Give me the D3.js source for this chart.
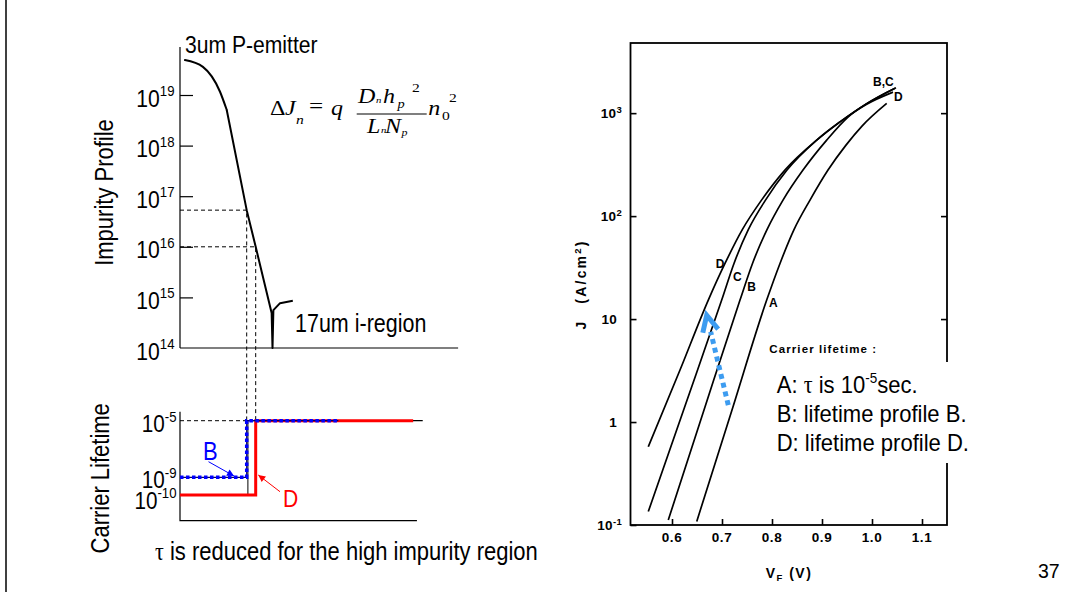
<!DOCTYPE html>
<html><head><meta charset="utf-8">
<script src="https://cdn.jsdelivr.net/npm/d3@7"></script>
<style>html,body{margin:0;padding:0;background:#fff;}svg{display:block;}</style>
</head><body>
<svg id="chart" width="1084" height="592"></svg>
<script>
// ---------- impurity profile of the P-emitter (depth in um, concentration in cm^-3)
const profileDepth = [0.17, 0.79, 1.38, 1.61, 2.30, 2.61, 3.16, 3.19, 3.22, 3.45, 3.89];
const profileConc  = [4.9e19, 3.6e19, 1.16e19, 5.1e18, 5.3e16, 1.0e16, 4.9e14, 1e14, 5.6e14, 7.7e14, 8.6e14];
const shoulderCount = 4;   // rounded surface part; the rest is drawn straight
const concTicks    = [1e15, 1e16, 1e17, 1e18, 1e19];
const concTickExp  = ["14", "15", "16", "17", "18", "19"];

// ---------- carrier lifetime profiles B and D
const lifetimeNames     = ["B", "D"];
const lifetimeThreshold = [5.3e16, 1e16];   // lifetime is reduced above this impurity level
const lifetimeLowLog    = [-9, -10];
const lifetimeHighLog   = -5;
const lifetimeEndDepth  = [5.46, 8.04];
const lifetimeTickLog   = [-5, -9, -10];
const referenceEndDepth = 8.37;

// ---------- forward J-V curves (V_F in volts, J in A/cm^2)
const curveNames = ["A", "B", "C", "D"];
const vA = [0.6494, 0.720, 0.7894, 0.816, 0.844, 0.876, 0.912, 0.948, 0.980, 1.0294];
const jA = [0.108, 1.31, 15.3, 34.7, 73.9, 143, 280, 489, 748, 1242];
const vB = [0.5926, 0.664, 0.736, 0.761, 0.790, 0.822, 0.862, 0.9094, 0.952, 0.9894, 1.048];
const jB = [0.112, 1.31, 15.3, 34.7, 73.9, 143, 280, 547, 915, 1237, 1768];
const vC = [0.5526, 0.626, 0.6994, 0.724, 0.7526, 0.787, 0.830, 0.8894, 0.936, 0.9894, 1.046];
const jC = [0.135, 1.43, 15.3, 34.7, 73.9, 143, 280, 547, 823, 1237, 1749];
const vD = [0.5526, 0.616, 0.6726, 0.706, 0.7406, 0.779, 0.8258, 0.8894, 0.936, 0.9894, 1.042];
const jD = [0.576, 3.20, 15.3, 34.7, 73.9, 143, 280, 547, 823, 1223, 1600];
const vTicks = [0.6, 0.7, 0.8, 0.9, 1.0, 1.1];
const vTickLabels = ["0.6", "0.7", "0.8", "0.9", "1.0", "1.1"];
const jTicks = [0.1, 1, 10, 100, 1000];
const jTickBase = ["10", "1", "10", "10", "10"];
const jTickExp  = ["-1", "", "", "2", "3"];
// curve labels placed at (V, J)
const curveLabelText = ["D", "C", "B", "A", "B,C", "D"];
const curveLabelV    = [0.696, 0.7306, 0.7594, 0.8026, 1.0226, 1.0526];
const curveLabelJ    = [34.7, 25.7, 20.6, 14.5, 2014, 1439];
// trend arrow from profile A towards the reduced-lifetime profiles
const trendFrom = [0.7126, 1.46];
const trendTo   = [0.6694, 10.9];

const SANS  = "'Liberation Sans', Arial, Helvetica, sans-serif";
const SERIF = "'Liberation Serif', 'Times New Roman', serif";

const svg = d3.select("#chart");
svg.append("rect").attr("width", 1084).attr("height", 592).attr("fill", "#fff");
svg.append("line").attr("x1", 6).attr("x2", 6).attr("y1", 0).attr("y2", 592)
  .attr("stroke", "#000").attr("stroke-width", 1.5);

const defs = svg.append("defs");
function arrowMarker(id, color) {
  defs.append("marker").attr("id", id).attr("viewBox", "0 0 10 10")
    .attr("refX", 10).attr("refY", 5).attr("markerWidth", 9).attr("markerHeight", 7)
    .attr("markerUnits", "userSpaceOnUse").attr("orient", "auto")
    .append("path").attr("d", "M0,0L10,5L0,10z").attr("fill", color);
}
arrowMarker("headBlue", "#0000ff");
arrowMarker("headRed", "#ff0000");

// text helper: positioned by transform, optional rotation and horizontal squeeze
function label(g, x, y, o) {
  const t = g.append("text")
    .attr("transform", `translate(${x},${y})` + (o.rotate ? ` rotate(${o.rotate})` : "") + ` scale(${o.sx || 1},1)`)
    .attr("font-family", o.family || SANS).attr("font-size", o.size)
    .attr("fill", o.fill || "#000").attr("text-anchor", o.anchor || "start");
  if (o.weight) t.attr("font-weight", o.weight);
  if (o.italic) t.attr("font-style", "italic");
  if (o.spacing) t.attr("letter-spacing", o.spacing);
  if (o.text !== undefined) t.text(o.text);
  return t;
}

// ================= left: impurity profile =================
const left = svg.append("g");
const xDepth = d3.scaleLinear().domain([0, 10]).range([180, 470]);
const yConc = d3.scaleLog().domain([1e14, 1e20]).range([348, 44.4]);
const yTau = d3.scaleLinear().domain([-11.45, -10, -9, -5, -4.36]).range([520.7, 495, 477.3, 420.7, 411.7]);

left.append("line").attr("x1", xDepth(0)).attr("x2", xDepth(0))
  .attr("y1", yConc(1e14)).attr("y2", yConc(Math.pow(10, 19.95)))
  .attr("stroke", "#000").attr("stroke-width", 1.2);
left.append("line").attr("x1", xDepth(0)).attr("x2", xDepth(9.59))
  .attr("y1", yConc(1e14)).attr("y2", yConc(1e14))
  .attr("stroke", "#000").attr("stroke-width", 1.2);
left.append("g").attr("transform", `translate(${xDepth(0)},0)`)
  .call(d3.axisRight(yConc).tickValues(concTicks).tickSize(13).tickSizeOuter(0).tickFormat(""))
  .call(g => g.select(".domain").remove())
  .call(g => g.selectAll("line").attr("stroke", "#000").attr("stroke-width", 1.2));

[1e14].concat(concTicks).forEach((v, i) => {
  const t = label(left, 174.5, yConc(v) + 11.5, { size: 24, sx: 0.88, anchor: "end" });
  t.append("tspan").text("10");
  t.append("tspan").attr("font-size", 15).attr("dy", -10.5).text(concTickExp[i]);
});

const profilePts = profileDepth.map((d, i) => [d, profileConc[i]]);
const profileX = d => xDepth(d[0]), profileY = d => yConc(d[1]);
left.append("path").datum(profilePts.slice(0, shoulderCount))
  .attr("d", d3.line().x(profileX).y(profileY).curve(d3.curveMonotoneX))
  .attr("fill", "none").attr("stroke", "#000").attr("stroke-width", 2).attr("stroke-linecap", "round");
left.append("path").datum(profilePts.slice(shoulderCount - 1))
  .attr("d", d3.line().x(profileX).y(profileY))
  .attr("fill", "none").attr("stroke", "#000").attr("stroke-width", 2).attr("stroke-linejoin", "round");

function crossingDepth(th) {
  for (let i = 0; i < profileDepth.length - 1; i++) {
    const a = profileConc[i], b = profileConc[i + 1];
    if (a >= th && b <= th) {
      const t = (Math.log10(a) - Math.log10(th)) / (Math.log10(a) - Math.log10(b));
      return profileDepth[i] + t * (profileDepth[i + 1] - profileDepth[i]);
    }
  }
  return profileDepth[profileDepth.length - 1];
}
const stepDepth = lifetimeThreshold.map(crossingDepth);

// guide lines from the profile down to the lifetime plot
stepDepth.forEach((s, i) => {
  const th = lifetimeThreshold[i];
  left.append("path")
    .attr("d", `M${xDepth(0)},${yConc(th)}H${xDepth(s)}V${yTau(lifetimeHighLog)}`)
    .attr("fill", "none").attr("stroke", "#000").attr("stroke-width", 1).attr("stroke-dasharray", "4,3");
});

label(left, 185, 53.3, { size: 24, sx: 0.88, text: "3um P-emitter" });
label(left, 295, 331.7, { size: 25, sx: 0.86, text: "17um i-region" });
label(left, 113, 192.5, { size: 25, sx: 0.88, rotate: -90, anchor: "middle", text: "Impurity Profile" });

// formula  dJn = q Dn hp^2 / (Ln Np) n0^2
const F = 1.2;
const formula = [
  ["\u0394", 270, 115, 20, false], ["J", 285, 115, 20, true], ["n", 296, 124, 13, true],
  ["=", 309, 113, 21, false], ["q", 331, 115, 20, true],
  ["D", 358, 102.7, 20, true], ["n", 376, 103, 9, true], ["h", 383, 102.7, 20, true],
  ["p", 397.5, 108, 12, true], ["2", 412, 91.7, 13, false],
  ["L", 367, 133.3, 20, true], ["n", 381, 133.3, 9, true], ["N", 385, 133.3, 20, true],
  ["p", 401.5, 136, 10, true],
  ["n", 428.3, 115, 20, true], ["0", 442, 120, 13, false], ["2", 449, 101.7, 13, false]
];
formula.forEach(f => label(left, f[1], f[2], { size: f[3], sx: F, family: SERIF, italic: f[4], text: f[0] }));
left.append("line").attr("x1", 356.7).attr("x2", 426.7).attr("y1", 114).attr("y2", 114)
  .attr("stroke", "#000").attr("stroke-width", 1.2);

// ================= left: carrier lifetime =================
const life = svg.append("g");
life.append("path")
  .attr("d", `M${xDepth(0)},${yTau(-4.36)}V${yTau(-11.45)}H${xDepth(8.17)}`)
  .attr("fill", "none").attr("stroke", "#000").attr("stroke-width", 1.2);

const tickNudge = { "-5": 11.5, "-9": 11, "-10": 13.5 };
lifetimeTickLog.forEach(v => {
  const t = label(life, 176.5, yTau(v) + tickNudge[v], { size: 23.5, sx: 0.88, anchor: "end" });
  t.append("tspan").text("10");
  t.append("tspan").attr("font-size", 15).attr("dy", -10.5).text(String(v));
});

// reference level 1e-5
life.append("line").attr("x1", xDepth(0)).attr("x2", xDepth(stepDepth[0]))
  .attr("y1", yTau(lifetimeHighLog)).attr("y2", yTau(lifetimeHighLog))
  .attr("stroke", "#000").attr("stroke-width", 1).attr("stroke-dasharray", "4,3");
life.append("line").attr("x1", xDepth(stepDepth[0])).attr("x2", xDepth(referenceEndDepth))
  .attr("y1", yTau(lifetimeHighLog)).attr("y2", yTau(lifetimeHighLog))
  .attr("stroke", "#000").attr("stroke-width", 1.2);
life.append("line").attr("x1", xDepth(stepDepth[0]) + 1.2).attr("x2", xDepth(stepDepth[0]) + 1.2)
  .attr("y1", yTau(lifetimeHighLog)).attr("y2", yTau(-10))
  .attr("stroke", "#000").attr("stroke-width", 1);

const stepPath = i => `M${xDepth(0)},${yTau(lifetimeLowLog[i])}H${xDepth(stepDepth[i])}` +
  `V${yTau(lifetimeHighLog)}H${xDepth(lifetimeEndDepth[i])}`;
// D (red, solid)
life.append("path").attr("d", stepPath(1)).attr("fill", "none")
  .attr("stroke", "#ff0000").attr("stroke-width", 3);
// B (blue, dotted)
life.append("path").attr("d", stepPath(0)).attr("fill", "none")
  .attr("stroke", "#000060").attr("stroke-width", 1.2);
life.append("path").attr("d", stepPath(0)).attr("fill", "none")
  .attr("stroke", "#0000ff").attr("stroke-width", 3.5).attr("stroke-dasharray", "3.5,2.5");

// profile callouts
const bTip = [xDepth(stepDepth[0]) - 12.7, yTau(lifetimeLowLog[0]) - 1.3];
life.append("line").attr("x1", bTip[0] - 25.5).attr("y1", bTip[1] - 14.3)
  .attr("x2", bTip[0]).attr("y2", bTip[1])
  .attr("stroke", "#0000ff").attr("stroke-width", 1).attr("marker-end", "url(#headBlue)");
label(life, 203, 460, { size: 25, sx: 0.88, fill: "#0000ff", text: lifetimeNames[0] });
const dTip = [xDepth(stepDepth[1]) + 2.6, yTau(lifetimeLowLog[0]) - 2.3];
life.append("line").attr("x1", dTip[0] + 21.7).attr("y1", dTip[1] + 16.7)
  .attr("x2", dTip[0]).attr("y2", dTip[1])
  .attr("stroke", "#ff0000").attr("stroke-width", 1).attr("marker-end", "url(#headRed)");
label(life, 283, 506.5, { size: 24, sx: 0.88, fill: "#ff0000", text: lifetimeNames[1] });

label(life, 108.5, 478.3, { size: 25, sx: 0.88, rotate: -90, anchor: "middle", text: "Carrier Lifetime" });
const cap = label(life, 155, 560, { size: 25, sx: 0.88 });
cap.append("tspan").attr("font-family", SERIF).text("\u03C4");
cap.append("tspan").text(" is reduced for the high impurity region");

// ================= right: J-V characteristics =================
const right = svg.append("g");
const xV = d3.scaleLinear().domain([0.517, 1.15]).range([630.5, 947]);
const yJ = d3.scaleLog().domain([0.1, 4800]).range([525, 43]);
const [fx0, fx1] = xV.range(), [fy1, fy0] = yJ.range();

right.append("g").attr("transform", `translate(${fx0},0)`)
  .call(d3.axisRight(yJ).tickValues(jTicks).tickSize(6).tickSizeOuter(0).tickFormat(""))
  .call(g => g.select(".domain").remove())
  .call(g => g.selectAll("line").attr("stroke", "#000").attr("stroke-width", 1.6));
right.append("g").attr("transform", `translate(${fx1},0)`)
  .call(d3.axisLeft(yJ).tickValues(jTicks.slice(1)).tickSize(6).tickSizeOuter(0).tickFormat(""))
  .call(g => g.select(".domain").remove())
  .call(g => g.selectAll("line").attr("stroke", "#000").attr("stroke-width", 1.6));
right.append("g").attr("transform", `translate(0,${fy1})`)
  .call(d3.axisTop(xV).tickValues(vTicks).tickSize(6).tickSizeOuter(0).tickFormat(""))
  .call(g => g.select(".domain").remove())
  .call(g => g.selectAll("line").attr("stroke", "#000").attr("stroke-width", 1.6));
right.append("rect").attr("x", fx0).attr("y", fy0).attr("width", fx1 - fx0).attr("height", fy1 - fy0)
  .attr("fill", "none").attr("stroke", "#000").attr("stroke-width", 1.8);

const curveLine = d3.line().x(d => xV(d[0])).y(d => yJ(d[1])).curve(d3.curveMonotoneX);
const curveData = { A: [vA, jA], B: [vB, jB], C: [vC, jC], D: [vD, jD] };
curveNames.forEach(n => {
  const [vs, js] = curveData[n];
  right.append("path").datum(vs.map((v, i) => [v, js[i]]))
    .attr("d", curveLine).attr("fill", "none").attr("stroke", "#000").attr("stroke-width", 1.7);
});

curveLabelText.forEach((t, i) => label(right, xV(curveLabelV[i]), yJ(curveLabelJ[i]) + 4.5,
  { size: 12, weight: "bold", anchor: "middle", text: t }));

jTicks.forEach((v, i) => {
  const t = label(right, jTickExp[i] ? 622 : 617, yJ(v) + 5, { size: 13.5, weight: "bold", anchor: "end", spacing: 0.3 });
  t.append("tspan").text(jTickBase[i]);
  if (jTickExp[i]) t.append("tspan").attr("font-size", 9.5).attr("dy", -5.5).text(jTickExp[i]);
});
vTicks.forEach((v, i) => label(right, xV(v), 542, { size: 13.5, weight: "bold", anchor: "middle", spacing: 0.6, text: vTickLabels[i] }));

const vf = label(right, 789, 577.5, { size: 14, weight: "bold", anchor: "middle", spacing: 1.5 });
vf.append("tspan").text("V");
vf.append("tspan").attr("font-size", 9.5).attr("dy", 3).text("F");
vf.append("tspan").attr("dy", -3).text(" (V)");
label(right, 586, 325.5, { size: 14, weight: "bold", rotate: -90, anchor: "middle", text: "J" });
const ja = label(right, 586, 271.5, { size: 14, weight: "bold", rotate: -90, anchor: "middle", spacing: 2.2 });
ja.append("tspan").text("(A/cm");
ja.append("tspan").attr("font-size", 9.5).attr("dy", -5.5).text("2");
ja.append("tspan").attr("dy", 5.5).text(")");

label(right, 769.3, 352.5, { size: 11.5, weight: "bold", spacing: 1.1, text: "Carrier lifetime :" });

// trend arrow
const p0 = [xV(trendFrom[0]), yJ(trendFrom[1])], p1 = [xV(trendTo[0]), yJ(trendTo[1])];
const len = Math.hypot(p1[0] - p0[0], p1[1] - p0[1]);
const u = [(p1[0] - p0[0]) / len, (p1[1] - p0[1]) / len];
const ARROW = "#3d9cf0";
right.append("line").attr("x1", p0[0]).attr("y1", p0[1])
  .attr("x2", p1[0] - u[0] * 17).attr("y2", p1[1] - u[1] * 17)
  .attr("stroke", ARROW).attr("stroke-width", 5).attr("stroke-dasharray", "5,4");
const arm = a => {
  const c = Math.cos(a), s = Math.sin(a), bx = -u[0], by = -u[1];
  return [p1[0] + 18 * (bx * c - by * s), p1[1] + 18 * (bx * s + by * c)];
};
const a1 = arm(26 * Math.PI / 180), a2 = arm(-26 * Math.PI / 180);
right.append("path").attr("d", `M${a1[0]},${a1[1]}L${p1[0]},${p1[1]}L${a2[0]},${a2[1]}`)
  .attr("fill", "none").attr("stroke", ARROW).attr("stroke-width", 5).attr("stroke-linejoin", "miter");

// legend
right.append("rect").attr("x", 765).attr("y", 362).attr("width", 215).attr("height", 101).attr("fill", "#fff");
const l1 = label(right, 776.7, 393, { size: 24.5, sx: 0.9 });
l1.append("tspan").text("A: ");
l1.append("tspan").attr("font-family", SERIF).text("\u03C4");
l1.append("tspan").text(" is 10");
l1.append("tspan").attr("font-size", 15).attr("dy", -10).text("-5");
l1.append("tspan").attr("dy", 10).text("sec.");
label(right, 776.7, 422, { size: 24.5, sx: 0.9, text: "B: lifetime profile B." });
label(right, 776.7, 451, { size: 24.5, sx: 0.9, text: "D: lifetime profile D." });

// page number
label(svg, 1038, 578, { size: 21, sx: 0.93, text: "37" });
</script>
</body></html>
